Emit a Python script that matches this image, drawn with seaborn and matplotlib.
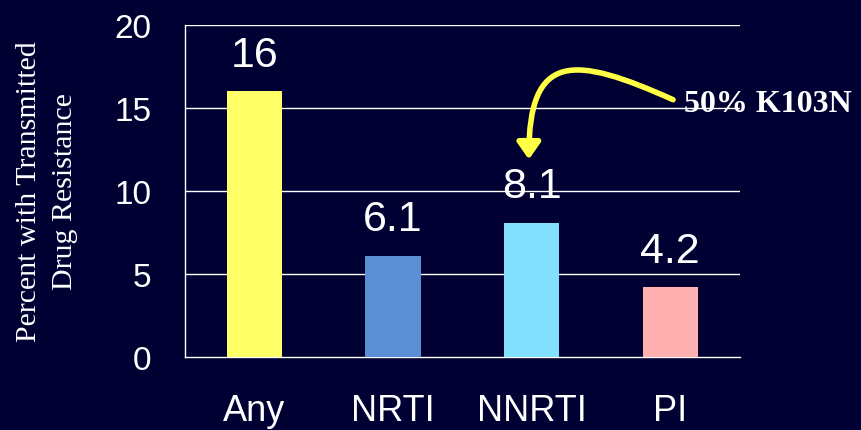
import pandas as pd
import seaborn as sns
import matplotlib.pyplot as plt
from matplotlib.path import Path
from matplotlib.patches import FancyArrowPatch

# Dados
categories = ['Any', 'NRTI', 'NNRTI', 'PI']
values = [16, 6.1, 8.1, 4.2]
value_labels = ['16', '6.1', '8.1', '4.2']
bar_colors = ['#FFFF66', '#5A8FD6', '#84E0FF', '#FFB0B0']
y_ticks = [0, 5, 10, 15, 20]

bg = '#000033'
df = pd.DataFrame({'cat': categories, 'val': values})

sns.set_style('white')
plt.rcParams['font.family'] = ['Liberation Sans', 'DejaVu Sans']

fig = plt.figure(figsize=(8.62, 4.31), dpi=100, facecolor=bg)
ax = fig.add_axes([0.2146, 0.1694, 0.8580 - 0.2146, 0.9397 - 0.1694])
ax.set_facecolor(bg)

sns.barplot(data=df, x='cat', y='val', hue='cat', palette=bar_colors,
            width=0.4, saturation=1, linewidth=0, legend=False, ax=ax, zorder=3)

# Linhas de grade horizontais
for t in y_ticks[1:]:
    ax.axhline(t, color='white', lw=1, zorder=1)

ax.set_ylim(0, 20)
ax.set_xlim(-0.5, 3.5)
ax.set_yticks(y_ticks)
ax.set_xticks([-0.5, 0.5, 1.5, 2.5, 3.5], minor=False)
ax.set_xticklabels([])
ax.set_xticks([0, 1, 2, 3], minor=True)
ax.set_xticklabels(categories, minor=True)
ax.tick_params(axis='x', which='major', direction='out', length=11, color='white', width=1)
ax.tick_params(axis='x', which='minor', length=0, pad=26, labelsize=26, labelcolor='white')
ax.tick_params(axis='y', direction='out', length=12, color='white', width=1,
               labelsize=24, labelcolor='white', pad=12)

for s in ['top', 'right']:
    ax.spines[s].set_visible(False)
for s in ['left', 'bottom']:
    ax.spines[s].set_color('white')
    ax.spines[s].set_linewidth(1)

ax.set_xlabel('')
ax.set_ylabel('Percent with Transmitted\nDrug Resistance', family='Liberation Serif',
              fontsize=21.5, color='white', labelpad=26, linespacing=1.5)

# Rótulos de valor
for i, (v, lab) in enumerate(zip(values, value_labels)):
    ax.text(i, v + 1.0, lab, ha='center', va='bottom', fontsize=31, color='white', zorder=4)

# Seta curva amarela
verts = [(3.02, 15.5), (2.3, 18.2), (1.98, 18.4), (1.98, 11.9)]
codes = [Path.MOVETO, Path.CURVE4, Path.CURVE4, Path.CURVE4]
arrow = FancyArrowPatch(path=Path(verts, codes), arrowstyle='-|>,head_length=10,head_width=7',
                        color='#FFFF44', lw=4, zorder=5, clip_on=False)
ax.add_patch(arrow)
ax.text(3.1, 15.3, '50% K103N', family='Liberation Serif', fontweight='bold',
        fontsize=23, color='white', ha='left', va='center', zorder=5, clip_on=False)

plt.savefig('out.png', dpi=100, facecolor=bg)
